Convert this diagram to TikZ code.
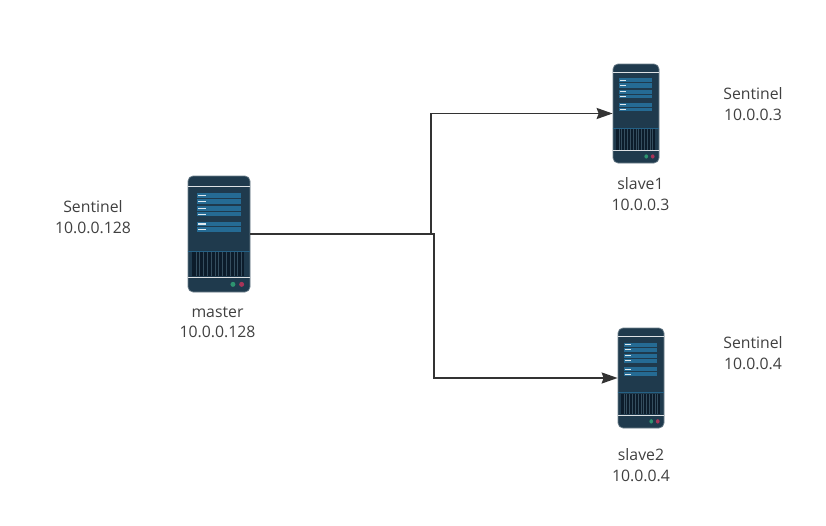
\documentclass[tikz,border=0pt]{standalone}
\usepackage{fontspec}
\setmainfont{Open Sans}
\usetikzlibrary{arrows.meta}
\definecolor{bodydark}{HTML}{1F3A4D}
\definecolor{barblue}{HTML}{256B94}
\definecolor{ventdark}{HTML}{0C1C2B}
\definecolor{ledgreen}{HTML}{2E9470}
\definecolor{ledred}{HTML}{A83458}
\definecolor{wirecol}{HTML}{333333}
\definecolor{labelcol}{HTML}{404040}
\tikzset{
	serverbox/.style={draw=bodydark!65!white, line width=0.7pt, fill=bodydark, rounded corners=5, inner sep=0},
	wire/.style={draw=wirecol, line width=1.9pt, -{Stealth[length=16pt, width=11pt, inset=2pt]}},
	lbl/.style={align=center, text=labelcol, font=\fontsize{15.8}{20.5}\selectfont, inner sep=0},
}
% details are drawn in a 62 x 116 box and scaled onto the named node
\def\serverdetail(#1)(#2:#3){
	\begin{scope}[shift={(#1.north west)}, xscale=#2/62, yscale=#3/116]
		\draw[white!85!bodydark, line width=0.9pt] (0, 10.3) -- (62, 10.3);
		\foreach \ya/\yb in {17.3/22, 23.2/28, 30.7/35, 36.2/40.7, 46/50.6, 51.8/56}{
			\fill[barblue] (9, \ya) rectangle (53, \yb);
			\fill[white!85!barblue] (10.5, {(\ya+\yb)/2-0.6}) rectangle (18.3, {(\ya+\yb)/2+0.6});
		}
		\draw[barblue!80!bodydark, line width=0.7pt] (0, 75.3) -- (62, 75.3);
		\fill[ventdark] (4.7, 76.7) rectangle (56.7, 100.7);
		\foreach \xa in {8,11.8,...,56}{
			\fill[bodydark!90!white] (\xa, 76.7) rectangle ({\xa+0.8}, 100.7);
		}
		\draw[white!85!bodydark, line width=0.9pt] (0, 101.9) -- (62, 101.9);
		\fill[ledgreen] (45.3, 108.7) circle (2.5);
		\fill[ledred] (54, 108.7) circle (2.5);
	\end{scope}
}

\begin{document}
\begin{tikzpicture}[x=1pt, y=-1pt]
	\useasboundingbox (0, 0) rectangle (826, 525);
	
	\node[serverbox, minimum width=62pt, minimum height=116pt] (master) at (219, 234) {};
	\serverdetail(master)(62:116)
	\node[serverbox, minimum width=46pt, minimum height=99pt] (slave1) at (636, 113.5) {};
	\serverdetail(slave1)(46:99)
	\node[serverbox, minimum width=46pt, minimum height=100pt] (slave2) at (641, 378) {};
	\serverdetail(slave2)(46:100)
	
	\draw[wire] (master.east) -- ++(181, 0) |- (slave1.west);
	\draw[wire] (master.east) -- ++(184, 0) |- (slave2.west);
	
	\node[lbl] (mastername) at (217.5, 322.5) {master\\10.0.0.128};
	\node[lbl] (slave1name) at (640.5, 194) {slave1\\10.0.0.3};
	\node[lbl] (slave2name) at (641, 465) {slave2\\10.0.0.4};
	\node[lbl] (mastersent) at (93, 217) {Sentinel\\10.0.0.128};
	\node[lbl] (slave1sent) at (753, 104) {Sentinel\\10.0.0.3};
	\node[lbl] (slave2sent) at (753, 353) {Sentinel\\10.0.0.4};
\end{tikzpicture}
\end{document}
